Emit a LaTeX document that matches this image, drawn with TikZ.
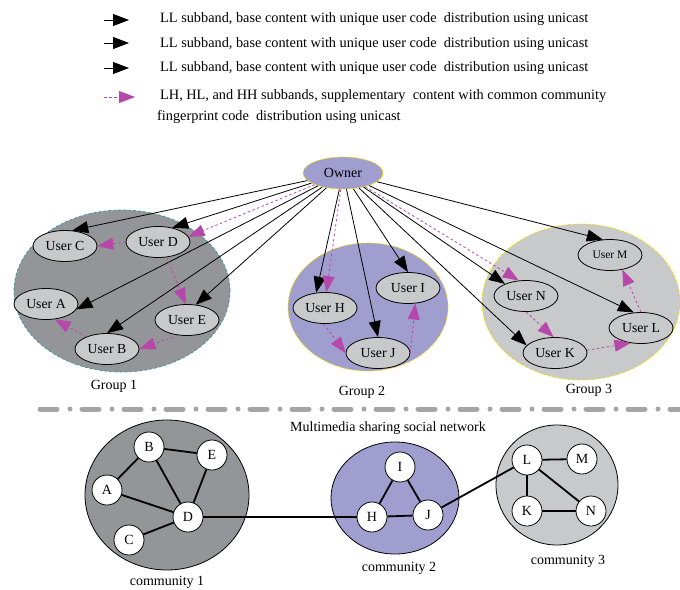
\documentclass[tikz,border=0pt]{standalone}
\usepackage{fontspec}
\setmainfont{Liberation Serif}
\usetikzlibrary{shapes.geometric,arrows.meta}
\definecolor{gA}{RGB}{147,149,152}
\definecolor{lav}{RGB}{160,158,206}
\definecolor{gC}{RGB}{200,201,203}
\definecolor{pinkc}{RGB}{183,72,170}
\definecolor{teal1}{RGB}{60,150,150}
\definecolor{yel}{RGB}{240,220,0}
\definecolor{sepc}{RGB}{165,165,165}
\begin{document}
\begin{tikzpicture}[x=1pt,y=-1pt,
  user/.style={ellipse,draw=black,fill=gC,minimum width=64pt,minimum height=31pt,inner sep=0pt,font=\fontsize{13.8}{15}\selectfont,line width=0.8pt},
  grp/.style={ellipse,inner sep=0pt,line width=0.7pt},
  base/.style={draw=black,line width=0.8pt,-{Triangle[length=16pt,width=12pt]}},
  supp/.style={draw=pinkc,line width=0.8pt,dash pattern=on 2.5pt off 2.5pt,-{Triangle[length=16pt,width=12pt]}},
  legend/.style={anchor=west,inner sep=0pt,font=\fontsize{14.3}{16}\selectfont},
  lbl/.style={inner sep=0pt,font=\fontsize{14}{16}\selectfont},
  comm/.style={ellipse,draw=black,line width=0.8pt,inner sep=0pt},
  vtx/.style={circle,draw=black,fill=white,line width=0.8pt,minimum size=30pt,inner sep=0pt,font=\fontsize{14}{16}\selectfont},
  edge/.style={draw=black,line width=1.8pt}
]
\useasboundingbox (0,0) rectangle (680,589);

% legend
\coordinate (l1s) at (104,20); \coordinate (l1e) at (129,20);
\coordinate (l2s) at (104,43); \coordinate (l2e) at (129,43);
\coordinate (l3s) at (104,68); \coordinate (l3e) at (129,68);
\coordinate (l4s) at (104,97); \coordinate (l4e) at (135,97);
\draw[base] (l1s) -- (l1e);
\draw[base] (l2s) -- (l2e);
\draw[base] (l3s) -- (l3e);
\draw[supp] (l4s) -- (l4e);
\node[legend] (t1) at (160,19) {LL subband, base content with unique user code~ distribution using unicast};
\node[legend] (t2) at (160,44) {LL subband, base content with unique user code~ distribution using unicast};
\node[legend] (t3) at (160,68) {LL subband, base content with unique user code~ distribution using unicast};
\node[legend] (t4) at (160,96) {LH, HL, and HH subbands, supplementary~ content with common community};
\node[legend] (t5) at (157,117) {fingerprint code~ distribution using unicast};

% groups
\node[grp,fill=gA,draw=teal1,densely dashed,minimum width=216pt,minimum height=162pt] (g1) at (122,291) {};
\node[grp,fill=lav,draw=yel,densely dashed,minimum width=160pt,minimum height=128pt] (g2) at (368,307) {};
\node[grp,fill=gC,draw=yel,densely dashed,minimum width=198pt,minimum height=156pt] (g3) at (581,302) {};
\node[lbl] (g1l) at (114,386) {Group 1};
\node[lbl] (g2l) at (362,392) {Group 2};
\node[lbl] (g3l) at (589,390) {Group 3};

% owner
\node[ellipse,fill=lav,draw=yel,densely dashed,line width=0.7pt,minimum width=80pt,minimum height=32pt,inner sep=0pt,font=\fontsize{14}{16}\selectfont] (owner) at (343,173) {Owner};

% users
\node[user] (uC) at (65,246) {User C};
\node[user] (uD) at (158,242) {User D};
\node[user] (uA) at (46,304) {User A};
\node[user] (uE) at (187,320) {User E};
\node[user] (uB) at (107,349) {User B};
\node[user] (uH) at (325,308) {User H};
\node[user] (uI) at (408,288) {User I};
\node[user] (uJ) at (378,353) {User J};
\node[user,font=\fontsize{11.5}{13}\selectfont] (uM) at (610,255) {User M};
\node[user] (uN) at (526,296) {User N};
\node[user] (uL) at (641,328) {User L};
\node[user] (uK) at (555,353) {User K};

% owner arrows
\draw[base] (owner) -- (uC.65);
\draw[base] (owner) -- (uD.45);
\draw[supp] (owner) -- (uD.10);
\draw[base] (owner) -- (uA.-10);
\draw[base] (owner) -- (uB.90);
\draw[base] (owner) -- (uE.60);
\draw[base] (owner) -- (uH.120);
\draw[supp] (owner) -- (uH.85);
\draw[base] (owner) -- (uJ.90);
\draw[base] (owner) -- (uI.90);
\draw[base] (owner) -- (uM.115);
\draw[supp] (owner) -- (uN.115);
\draw[base] (owner) -- (uN.150);
\draw[base] (owner) -- (uL.115);
\draw[base] (owner) -- (uK.165);

% intra-group
\draw[supp] (uD.west) -- (uC.east);
\draw[supp] (uD.-60) -- (uE.95);
\draw[supp] (uE.-120) -- (uB.0);
\draw[supp] (uB.150) -- (uA.-60);
\draw[supp] (uH.-95) -- (uJ.180);
\draw[supp] (uJ.0) -- (uI.-65);
\draw[supp] (uN.-90) -- (uK.95);
\draw[supp] (uK.5) -- (uL.-125);
\draw[supp] (uL.90) -- (uM.-50);

% separator
\coordinate (s1) at (40,409); \coordinate (s2) at (684,409);
\draw[sepc,line width=5pt,line cap=round,dash pattern=on 17pt off 13pt on 0pt off 12pt] (s1) -- (s2);
\node[lbl] (net) at (388,428) {Multimedia sharing social network};

% communities
\node[comm,fill=gA,minimum width=164pt,minimum height=150pt] (c1) at (167,495) {};
\node[comm,fill=lav,minimum width=128pt,minimum height=112pt] (c2) at (395,498) {};
\node[comm,fill=gC,minimum width=122pt,minimum height=120pt] (c3) at (557,485) {};
\node[lbl] (c1l) at (167,582) {community 1};
\node[lbl] (c2l) at (399,568) {community 2};
\node[lbl] (c3l) at (568,561) {community 3};

\node[vtx] (vB) at (149,447) {B};
\node[vtx] (vE) at (212,455) {E};
\node[vtx] (vA) at (107,490) {A};
\node[vtx] (vD) at (188,517) {D};
\node[vtx] (vC) at (129,540) {C};
\node[vtx] (vI) at (400,467) {I};
\node[vtx] (vH) at (372,517) {H};
\node[vtx] (vJ) at (428,515) {J};
\node[vtx] (vL) at (527,460) {L};
\node[vtx] (vM) at (582,459) {M};
\node[vtx] (vK) at (527,511) {K};
\node[vtx] (vN) at (591,511) {N};

\draw[edge] (vA) -- (vB);
\draw[edge] (vB) -- (vE);
\draw[edge] (vB) -- (vD);
\draw[edge] (vA) -- (vD);
\draw[edge] (vE) -- (vD);
\draw[edge] (vC) -- (vD);
\draw[edge] (vD) -- (vH);
\draw[edge] (vH) -- (vI);
\draw[edge] (vI) -- (vJ);
\draw[edge] (vH) -- (vJ);
\draw[edge] (vJ) -- (vL);
\draw[edge] (vL) -- (vM);
\draw[edge] (vL) -- (vK);
\draw[edge] (vL) -- (vN);
\draw[edge] (vK) -- (vN);
\end{tikzpicture}
\end{document}
